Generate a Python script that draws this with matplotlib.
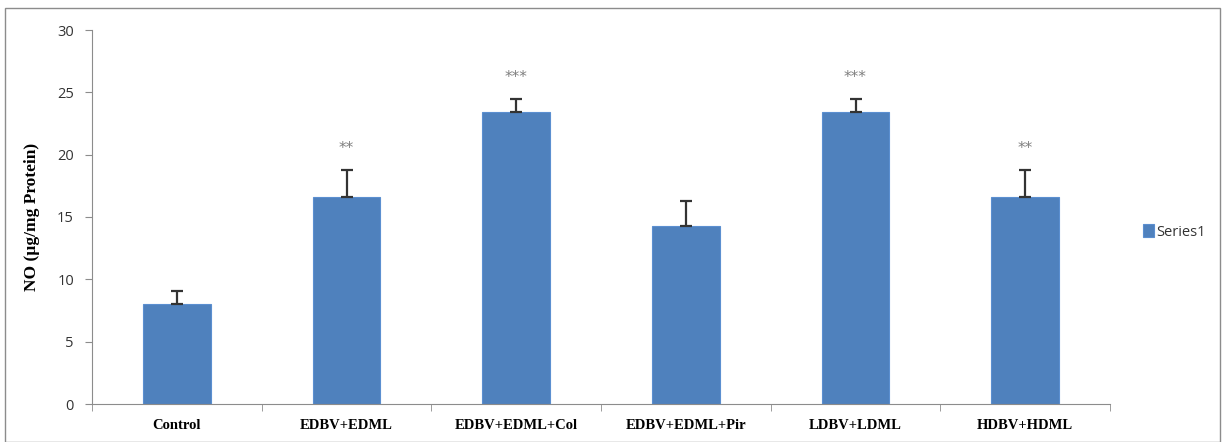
import matplotlib
matplotlib.use('Agg')
import matplotlib.pyplot as plt
import numpy as np
from matplotlib.patches import Rectangle

# 数据
groups = ["Control", "EDBV+EDML", "EDBV+EDML+Col", "EDBV+EDML+Pir", "LDBV+LDML", "HDBV+HDML"]
no_values = [8.0, 16.6, 23.4, 14.3, 23.4, 16.6]
no_errors = [1.05, 2.2, 1.05, 2.0, 1.05, 2.2]
stars = ["", "**", "***", "", "***", "**"]

fig = plt.figure(figsize=(12.25, 4.42), dpi=100)
ax = fig.add_axes([92 / 1225, 1 - 404 / 442, (1110 - 92) / 1225, (404 - 30) / 442])

# 外框
fig.patches.append(Rectangle((5 / 1225, 0), 1215 / 1225, 1 - 8 / 442, transform=fig.transFigure,
                             fill=False, edgecolor='#8c8c8c', linewidth=1.0))

x = np.arange(len(groups))
lower = np.zeros(len(groups))
ax.bar(x, no_values, width=0.4, color='#4f81bd', edgecolor='#5b8fd0', linewidth=0.8,
       label='Series1', zorder=2)
ax.errorbar(x, no_values, yerr=[lower, no_errors], fmt='none', ecolor='#333333',
            elinewidth=1.6, capsize=4, capthick=1.6, zorder=3)

for xi, v, e, s in zip(x, no_values, no_errors, stars):
    if s:
        ax.text(xi, v + e + 1.7, s, ha='center', va='center', fontsize=11,
                color='#7f7f7f', family='DejaVu Sans')

ax.set_xlim(-0.5, len(groups) - 0.5)
ax.set_ylim(0, 30)
ax.set_yticks(np.arange(0, 31, 5))
ax.set_xticks(x)
ax.set_xticklabels(groups, fontfamily='Liberation Serif', fontweight='bold', fontsize=10.5)
ax.set_xticks(np.arange(-0.5, len(groups), 1.0), minor=True)
ax.tick_params(axis='x', which='major', length=0, pad=11)
ax.tick_params(axis='x', which='minor', length=5, color='#8c8c8c', direction='out')
ax.tick_params(axis='y', length=5, color='#8c8c8c', labelsize=10.5, labelcolor='#333333', pad=8)
for lbl in ax.get_yticklabels():
    lbl.set_fontfamily('Open Sans')

ax.set_ylabel('NO (µg/mg Protein)', fontfamily='Liberation Serif', fontweight='bold',
              fontsize=12.5, labelpad=12)

for side in ['top', 'right']:
    ax.spines[side].set_visible(False)
for side in ['left', 'bottom']:
    ax.spines[side].set_color('#8c8c8c')

leg = ax.legend(loc='center left', bbox_to_anchor=(1.02, 0.46), frameon=False,
                handlelength=0.7, handleheight=0.9, handletextpad=0.2,
                prop={'family': 'Open Sans', 'size': 10.5})
for t in leg.get_texts():
    t.set_color('#333333')

fig.savefig('out.png', dpi=100)
